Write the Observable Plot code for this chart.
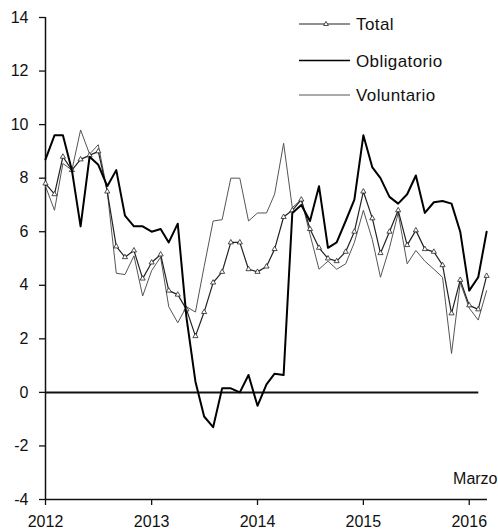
<!DOCTYPE html>
<html><head><meta charset="utf-8">
<script src="https://cdn.jsdelivr.net/npm/d3@7"></script>
<script src="https://cdn.jsdelivr.net/npm/@observablehq/plot@0.6"></script>
<style>
body{margin:0;background:#fff;font-family:"Liberation Sans",Arial,sans-serif;}
#wrap{position:relative;width:498px;height:529px;}
#legend{position:absolute;left:0;top:0;pointer-events:none;}
</style></head><body><div id="wrap"></div>
<script>
// Monthly series, Jan 2012 – Mar 2016 (%)
const obligatorio = [
  8.7, 9.6, 9.6, 8.3, 6.2, 8.8, 8.5, 7.7, 8.3, 6.6, 6.2, 6.2,
  6.0, 6.1, 5.6, 6.3, 2.8, 0.4, -0.9, -1.3, 0.15, 0.15, 0.0, 0.65,
  -0.5, 0.3, 0.7, 0.65, 6.7, 7.0, 6.4, 7.7, 5.4, 5.6, 6.4, 7.2,
  9.6, 8.4, 8.0, 7.3, 7.05, 7.4, 8.1, 6.7, 7.1, 7.15, 7.05, 6.0,
  3.8, 4.3, 6.0
];
const total = [
  7.8, 7.4, 8.8, 8.3, 8.7, 8.85, 9.0, 7.5, 5.45, 5.05, 5.3, 4.25,
  4.85, 5.15, 3.8, 3.65, 3.1, 2.1, 3.0, 4.1, 4.5, 5.6, 5.6, 4.6,
  4.5, 4.7, 5.35, 6.55, 6.8, 7.2, 6.1, 5.4, 5.0, 4.9, 5.25, 6.0,
  7.5, 6.5, 5.2, 6.0, 6.8, 5.5, 6.05, 5.35, 5.25, 4.75, 2.95, 4.2,
  3.25, 3.1, 4.35
];
const voluntario = [
  7.7, 6.8, 8.55, 8.3, 9.8, 8.9, 9.25, 7.5, 4.45, 4.4, 5.1, 3.6,
  4.55, 5.05, 3.2, 2.6, 3.2, 3.0, 4.7, 6.4, 6.45, 8.0, 8.0, 6.4,
  6.7, 6.7, 7.4, 9.3, 6.9, 7.2, 5.9, 4.6, 4.9, 4.6, 4.8, 5.6,
  6.8, 5.7, 4.3, 5.4, 6.7, 4.8, 5.3, 4.9, 4.6, 4.3, 1.45, 4.1,
  3.15, 2.7, 3.8
];
const yTicks = [-4, -2, 0, 2, 4, 6, 8, 10, 12, 14];
const years = [2012, 2013, 2014, 2015, 2016];
const seriesNames = ["Total", "Obligatorio", "Voluntario"];
const noteText = "Marzo";

const start = new Date(Date.UTC(2012, 0, 1));
const months = d3.utcMonth.range(start, new Date(Date.UTC(2016, 3, 1)));
const data = months.map((d, i) => ({date: d, obl: obligatorio[i], tot: total[i], vol: voluntario[i]}));
const yearDates = years.map(y => new Date(Date.UTC(y, 0, 1)));
const xEnd = new Date(Date.UTC(2016, 2, 4));
const zeroEnd = new Date(Date.UTC(2016, 1, 3));

const font = "Liberation Sans, Arial, sans-serif";
const chart = Plot.plot({
  width: 498, height: 529,
  marginLeft: 45, marginRight: 11, marginTop: 17, marginBottom: 30,
  style: {fontFamily: font, fontSize: "16px", background: "white", color: "#111", overflow: "visible"},
  x: {type: "utc", domain: [start, xEnd], label: null},
  y: {domain: [-4, 14], label: null},
  marks: [
    Plot.axisY(yTicks, {tickSize: 6, tickPadding: 11, tickFormat: d => String(d), fontSize: 16, strokeWidth: 1.3, label: null}),
    Plot.axisX(yearDates, {tickSize: 6, tickPadding: 10, tickFormat: d => String(d.getUTCFullYear()), fontSize: 16, strokeWidth: 1.3, label: null, style: {letterSpacing: "1px"}}),
    Plot.ruleX([start], {y1: -4, y2: 14, stroke: "#111", strokeWidth: 1.5}),
    Plot.ruleY([-4], {stroke: "#111", strokeWidth: 1.6}),
    Plot.ruleY([0], {x1: start, x2: zeroEnd, stroke: "#111", strokeWidth: 2}),
    Plot.line(data, {x: "date", y: "vol", stroke: "#555", strokeWidth: 1}),
    Plot.line(data, {x: "date", y: "tot", stroke: "#222", strokeWidth: 1.2}),
    Plot.dot(data, {x: "date", y: "tot", symbol: "triangle", r: 1.9, fill: "white", stroke: "#222", strokeWidth: 0.8}),
    Plot.line(data, {x: "date", y: "obl", stroke: "#000", strokeWidth: 2}),
    Plot.text([noteText], {frameAnchor: "bottom-right", textAnchor: "end", lineAnchor: "middle", dx: 10, dy: -21, fontSize: 16, fill: "#111"})
  ]
});
const wrap = document.getElementById("wrap");
wrap.appendChild(chart);

// Legend overlay
const lg = d3.create("svg").attr("id", "legend").attr("width", 498).attr("height", 120)
  .style("font-family", font).style("font-size", "17px");
const legendStyles = [
  {stroke: "#222", width: 1.2, marker: true},
  {stroke: "#000", width: 1.6, marker: false},
  {stroke: "#555", width: 1, marker: false}
];
const rowY = [24, 60.5, 95];
seriesNames.forEach((name, i) => {
  const s = legendStyles[i];
  lg.append("line").attr("x1", 299).attr("x2", 350).attr("y1", rowY[i]).attr("y2", rowY[i])
    .attr("stroke", s.stroke).attr("stroke-width", s.width);
  if (s.marker) {
    const cx = 326, cy = rowY[i];
    lg.append("path").attr("d", `M${cx},${cy-2.6}L${cx+2.4},${cy+1.5}L${cx-2.4},${cy+1.5}Z`)
      .attr("fill", "white").attr("stroke", "#222").attr("stroke-width", 0.8);
  }
  lg.append("text").attr("x", 356).attr("y", rowY[i]).attr("dy", "0.36em")
    .attr("fill", "#111").style("letter-spacing", "0.4px").text(name);
});
wrap.appendChild(lg.node());
</script></body></html>
